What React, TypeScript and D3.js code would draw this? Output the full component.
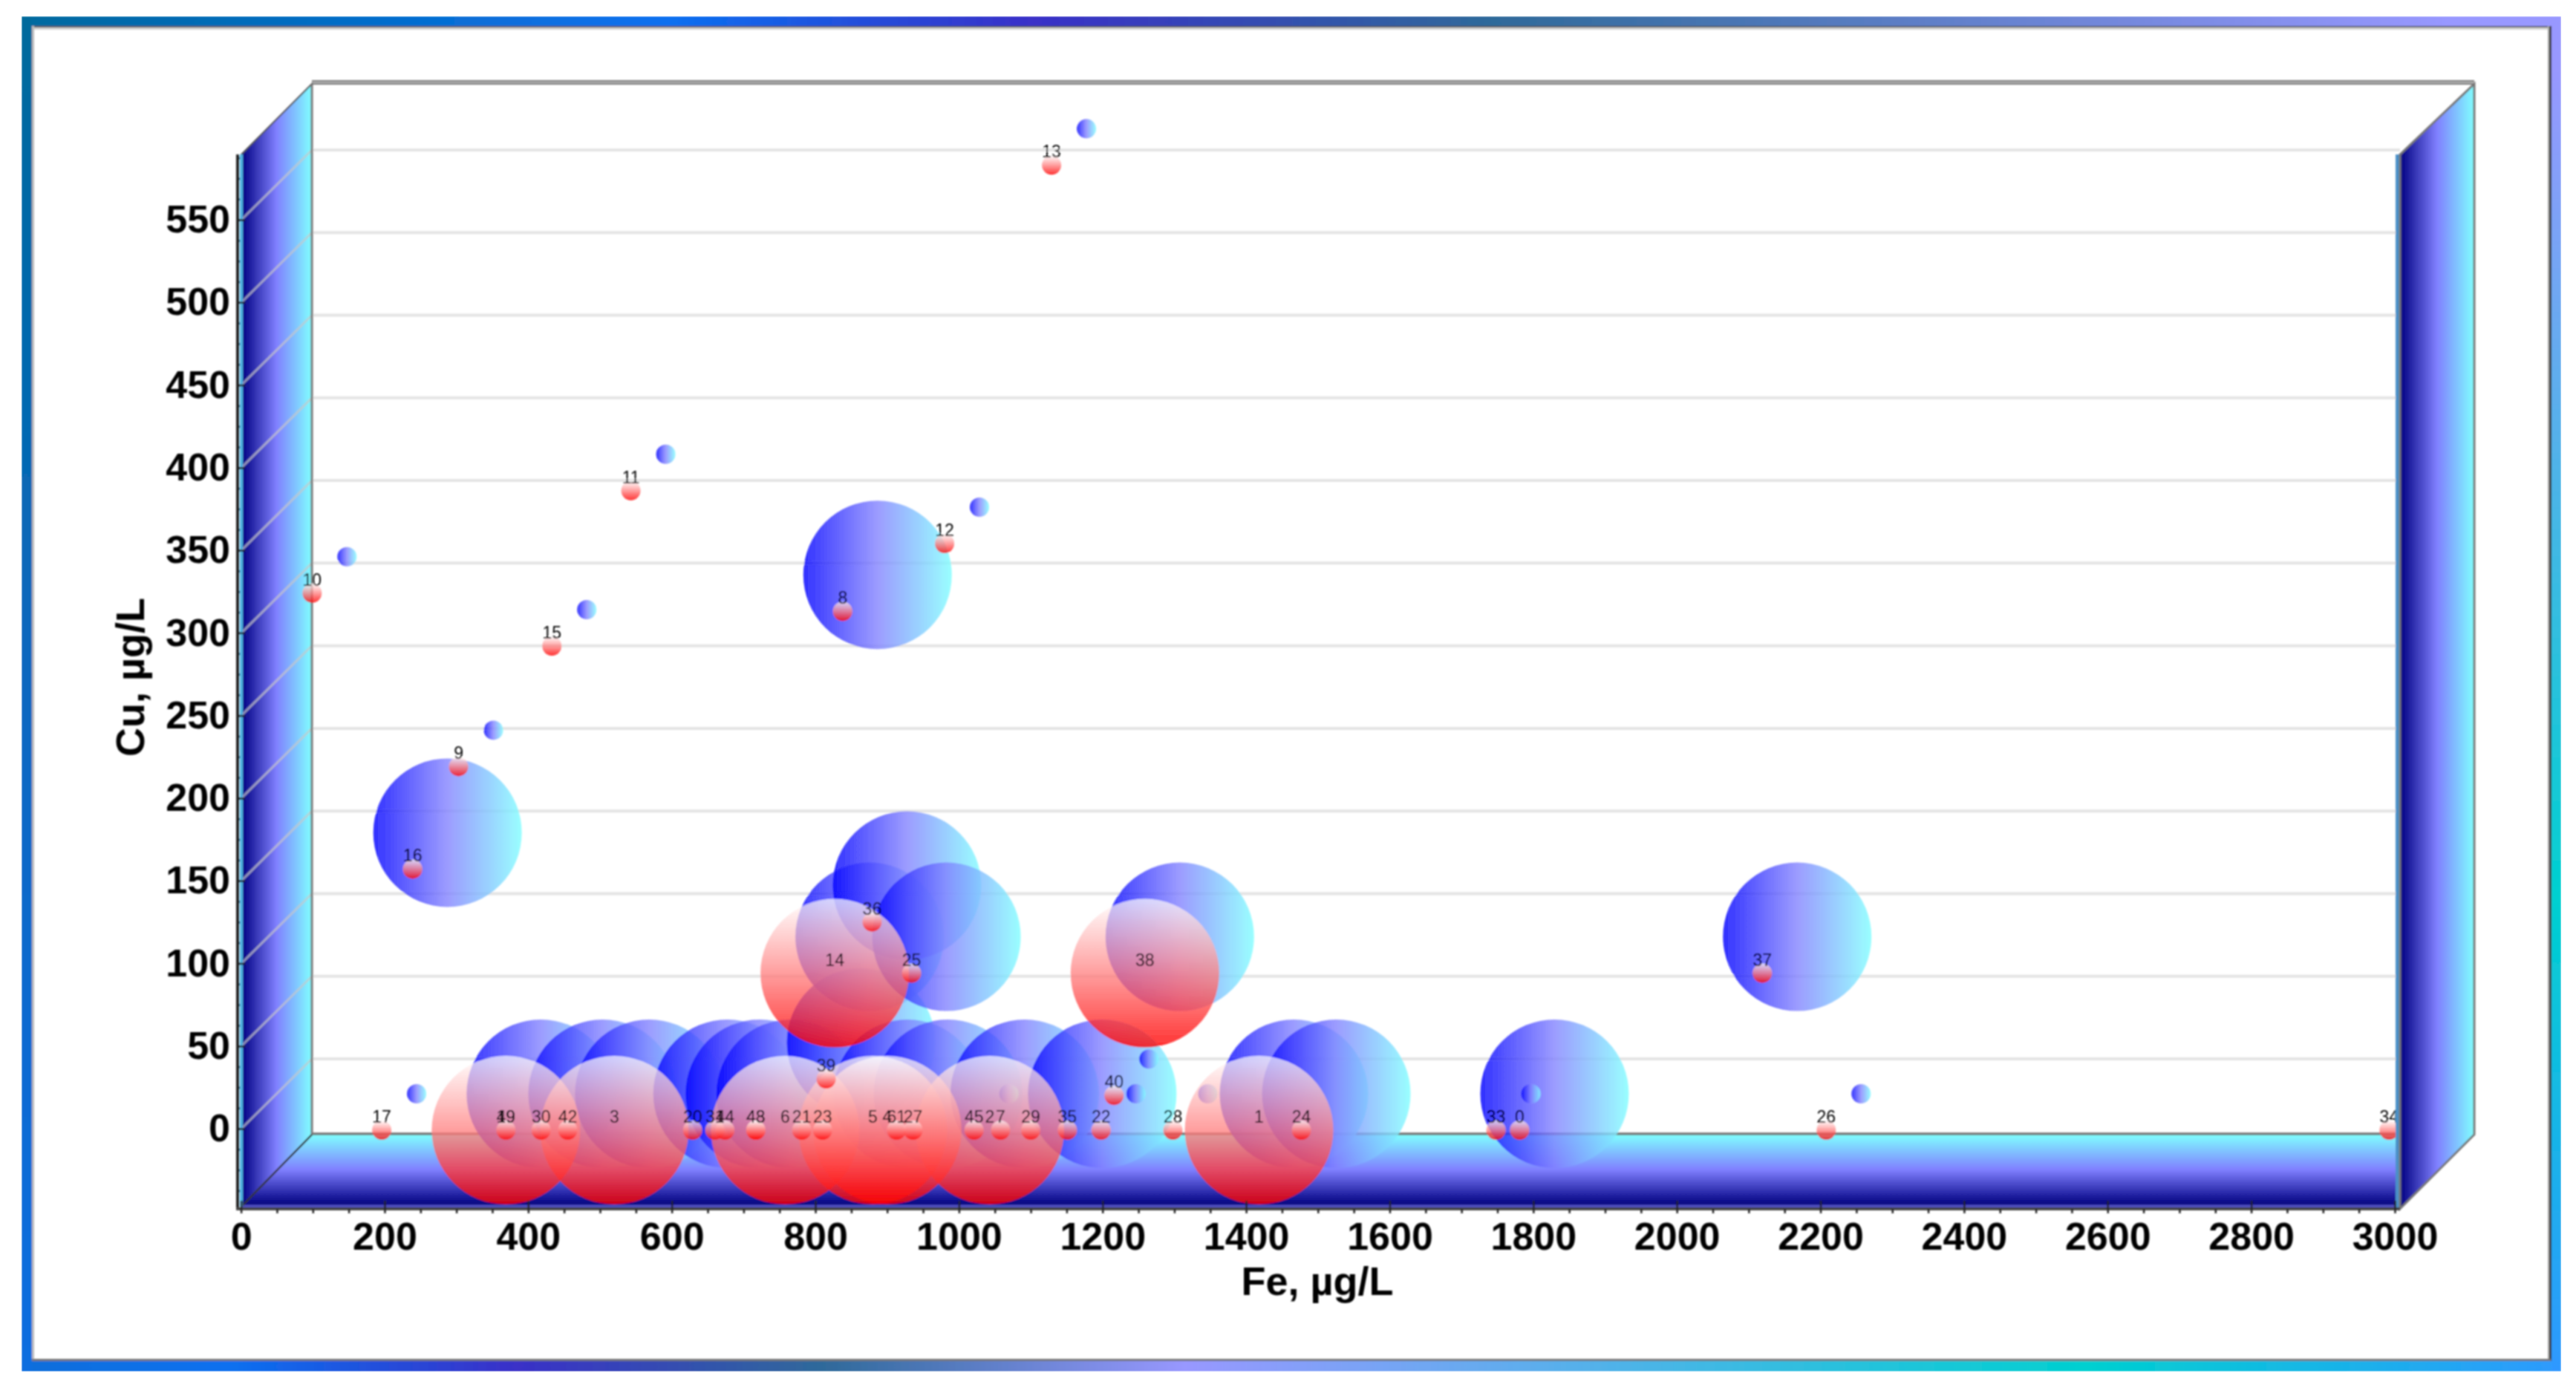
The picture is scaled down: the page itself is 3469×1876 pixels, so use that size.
import React, { useRef, useEffect } from "react";
import * as d3 from "d3";

const WIDTH = 3469;
const HEIGHT = 1876;

// data: label, Fe, Cu
const pointIds = ["49", "19", "30", "42", "3", "20", "31", "44", "43", "48", "6", "21", "23", "39", "5", "4", "61", "27", "45", "2", "7", "29", "35", "22", "40", "28", "1", "24", "33", "0", "26", "34", "17", "16", "9", "15", "10", "8", "12", "11", "13", "14", "36", "25", "38", "37"];
const feValues = [369, 369, 418, 455, 520, 629, 660, 674, 717, 717, 758, 781, 810, 815, 880, 900, 913, 936, 1021, 1043, 1058, 1100, 1151, 1198, 1216, 1298, 1418, 1477, 1748, 1781, 2208, 2992, 196, 239, 303, 433, 99, 838, 980, 543, 1129, 827, 879, 934, 1259, 2119];
const cuValues = [0, 0, 0, 0, 0, 0, 0, 0, 0, 0, 0, 0, 0, 31, 0, 0, 0, 0, 0, 0, 0, 0, 0, 0, 21, 0, 0, 0, 0, 0, 0, 0, 0, 158, 220, 293, 325, 314, 355, 387, 584, 95, 126, 95, 95, 95];

// which labels get the big bubble in each series
const bigRed = ["49", "3", "6", "5", "4", "2", "1", "14", "38"];
const bigBlue = ["49", "42", "3", "20", "44", "48", "39", "5", "27", "2", "35", "1", "24", "0", "16", "8", "14", "36", "25", "38", "37"];
// no blue marker can be seen for these
const noBlue = ["19", "30", "31", "43", "6", "21", "23", "4", "61", "7", "29"];

const xMajor = d3.range(0, 3001, 200);
const xMinor = d3.range(0, 3001, 50);
const yMajor = d3.range(0, 551, 50);
const yMinor = d3.range(-37.5, 589, 12.5);

const frameTop = [[0, "#006a9c"], [0.26, "#0a70f0"], [0.4, "#3a30c8"], [0.58, "#2f6a9a"], [0.95, "#9898ff"], [1, "#9898ff"]];
const frameBottom = [[0, "#0a6ed8"], [0.09, "#0a70f0"], [0.2, "#3a30c8"], [0.32, "#2f6a9a"], [0.46, "#9898ff"], [0.81, "#00d0d0"], [1, "#3098ff"]];
const frameLeft = [[0, "#006a9c"], [0.5, "#0a68c0"], [1, "#0c6ee0"]];
const frameRight = [[0, "#9898ff"], [0.04, "#9898ff"], [0.65, "#00d0d0"], [1, "#3098ff"]];
const wallStops = [[0, "#000080"], [0.5, "#8080ff"], [1, "#80ffff"]];

const FONT = "'Liberation Sans', Arial, sans-serif";

const x = d3.scaleLinear().domain([0, 3000]).range([324.6, 3225]);
const y = d3.scaleLinear().domain([0, 550]).range([1520, 296]);
const radius = d3.scaleOrdinal<string, number>().domain(["small", "big"]).range([13, 100]);

// depth of the box and of the back series, in px
const BOX = { left: 325, right: 3232, top: 208, bottom: 1625, dx: 96, dy: 95 };
const BLUE_SHIFT = 47;

const pts = pointIds.map((id, i) => ({ id, fe: feValues[i], cu: cuValues[i] }));
const blueOrder = pts
  .filter(d => !noBlue.includes(d.id))
  .sort((a, b) => +bigBlue.includes(b.id) - +bigBlue.includes(a.id));
const redOrder = [...pts].sort((a, b) => +bigRed.includes(b.id) - +bigRed.includes(a.id));

const Grad = ({ id, stops, x1, y1, x2, y2 }: any) => (
  <linearGradient id={id} gradientUnits="userSpaceOnUse" x1={x1} y1={y1} x2={x2} y2={y2}>
    {stops.map((s: any, i: number) => <stop key={i} offset={s[0]} stopColor={s[1]} />)}
  </linearGradient>
);

function App() {
  const xRef = useRef<SVGGElement>(null);
  const xMinorRef = useRef<SVGGElement>(null);
  const yRef = useRef<SVGGElement>(null);
  const yMinorRef = useRef<SVGGElement>(null);

  useEffect(() => {
    const style = (g: any) => {
      g.select(".domain").remove();
      g.selectAll("line").attr("stroke", "#222").attr("stroke-width", 2.5);
      g.selectAll("text")
        .attr("font-family", FONT)
        .attr("font-weight", "bold")
        .attr("font-size", 52)
        .attr("fill", "#000");
    };
    const plain = d3.format("d");
    d3.select(xRef.current).call(d3.axisBottom(x).tickValues(xMajor).tickFormat(plain as any).tickSizeInner(-11).tickSizeOuter(0).tickPadding(18) as any).call(style);
    d3.select(xMinorRef.current).call(d3.axisBottom(x).tickValues(xMinor).tickSizeInner(6).tickSizeOuter(0).tickFormat(() => "") as any).call(style);
    d3.select(yRef.current).call(d3.axisLeft(y).tickValues(yMajor).tickFormat(plain as any).tickSizeInner(-9).tickSizeOuter(0).tickPadding(11) as any).call(style);
    d3.select(yMinorRef.current).call(d3.axisLeft(y).tickValues(yMinor).tickSizeInner(3).tickSizeOuter(0).tickFormat(() => "") as any).call(style);
  }, []);

  const backLeft = BOX.left + BOX.dx - 1;
  const backRight = BOX.right + BOX.dx + 4;
  const backTop = BOX.top - BOX.dy;
  const backBottom = BOX.bottom - BOX.dy - 2;

  return (
    <svg width={WIDTH} height={HEIGHT} style={{ position: "absolute", left: 0, top: 0, background: "#fff" }}>
      <defs>
        <Grad id="fTop" stops={frameTop} x1={0} y1={0} x2={WIDTH} y2={0} />
        <Grad id="fBottom" stops={frameBottom} x1={0} y1={0} x2={WIDTH} y2={0} />
        <Grad id="fLeft" stops={frameLeft} x1={0} y1={22} x2={0} y2={1847} />
        <Grad id="fRight" stops={frameRight} x1={0} y1={22} x2={0} y2={1847} />
        <Grad id="wallL" stops={wallStops} x1={BOX.left} y1={0} x2={backLeft} y2={0} />
        <Grad id="wallR" stops={wallStops} x1={BOX.right} y1={0} x2={backRight} y2={0} />
        <Grad id="floor" stops={wallStops} x1={0} y1={BOX.bottom - 3} x2={0} y2={backBottom} />
        <linearGradient id="blueBall" x1="0" y1="0" x2="1" y2="0">
          <stop offset="0" stopColor="#0000ff" stopOpacity={0.8} />
          <stop offset="0.5" stopColor="#8080ff" stopOpacity={0.78} />
          <stop offset="1" stopColor="#80ffff" stopOpacity={0.8} />
        </linearGradient>
        <linearGradient id="redBall" x1="0" y1="0" x2="0" y2="1">
          <stop offset="0" stopColor="#ffffff" stopOpacity={0.72} />
          <stop offset="1" stopColor="#ff0000" stopOpacity={0.8} />
        </linearGradient>
        <filter id="soft" x="0" y="0" width="1" height="1">
          <feGaussianBlur stdDeviation={0.9} />
        </filter>
      </defs>

      <g filter="url(#soft)">
        {/* outer frame */}
        <rect x={29} y={22} width={3420} height={14} fill="url(#fTop)" />
        <rect x={29} y={1833} width={3420} height={14} fill="url(#fBottom)" />
        <rect x={29} y={22} width={14} height={1825} fill="url(#fLeft)" />
        <rect x={3436} y={22} width={13} height={1825} fill="url(#fRight)" />
        <rect x={44} y={37} width={3388} height={3} fill="#d0d0d0" />
        <rect x={43} y={35} width={3392} height={2} fill="#555" />
        <rect x={43} y={35} width={3} height={1798} fill="#bbb" />
        <rect x={3431} y={35} width={2} height={1798} fill="#aaa" />
        <rect x={3433} y={35} width={3} height={1798} fill="#333" />
        <rect x={43} y={1830} width={3392} height={3} fill="#777" />

        {/* back wall */}
        <line x1={backLeft} x2={backRight} y1={backTop - 2} y2={backTop - 2} stroke="#777" strokeWidth={6} />
        <line x1={backLeft} x2={backRight} y1={backTop - 2} y2={backTop - 2} stroke="#ccc" strokeWidth={1.5} />
        {yMajor.map(v => (
          <line key={v} x1={backLeft} x2={BOX.right} y1={y(v) - BOX.dy + 1} y2={y(v) - BOX.dy + 1} stroke="#e4e4e4" strokeWidth={4} />
        ))}

        {/* floor */}
        <polygon points={`${backLeft},${backBottom} ${BOX.right},${backBottom} ${BOX.right},${BOX.bottom} ${BOX.left},${BOX.bottom}`} fill="url(#floor)" />
        <line x1={backLeft} x2={BOX.right} y1={backBottom - 1} y2={backBottom - 1} stroke="#777" strokeWidth={3.5} />
        <line x1={BOX.left} x2={BOX.right} y1={BOX.bottom} y2={BOX.bottom} stroke="#5050c0" strokeWidth={5} />

        {/* left wall */}
        <polygon points={`${BOX.left},${BOX.top} ${backLeft},${backTop} ${backLeft},${backBottom} ${BOX.left},${BOX.bottom}`} fill="url(#wallL)" stroke="#555" strokeWidth={2} />
        {yMajor.map(v => (
          <line key={v} x1={BOX.left} x2={backLeft} y1={y(v)} y2={y(v) - BOX.dy + 1} stroke="#c8c8c8" strokeOpacity={0.7} strokeWidth={3} />
        ))}
        <line x1={BOX.left} y1={BOX.bottom} x2={backLeft} y2={backBottom} stroke="#333" strokeWidth={2.5} />
        <line x1={backLeft} y1={backTop} x2={backLeft} y2={backBottom} stroke="#777" strokeWidth={3} />

        {/* back series */}
        <g>
          {blueOrder.map(d => (
            <circle key={d.id} cx={x(d.fe) + BLUE_SHIFT} cy={y(d.cu) - BLUE_SHIFT}
              r={radius(bigBlue.includes(d.id) ? "big" : "small")} fill="url(#blueBall)" />
          ))}
        </g>

        {/* front series */}
        <g>
          {redOrder.map(d => (
            <circle key={d.id} cx={x(d.fe)} cy={y(d.cu) + 2}
              r={radius(bigRed.includes(d.id) ? "big" : "small")} fill="url(#redBall)" />
          ))}
        </g>
        <g fontFamily={FONT} fontSize={23} fill="#000" textAnchor="middle">
          {pts.map(d => (
            <text key={d.id} x={x(d.fe)} y={y(d.cu) - 8}>{d.id}</text>
          ))}
        </g>

        {/* right wall sits in front of the marks */}
        <rect x={3226} y={BOX.top} width={6} height={BOX.bottom - BOX.top + 3} fill="#4a90c8" />
        <polygon points={`${BOX.right},${BOX.top} ${backRight},${backTop} ${backRight},${backBottom} ${BOX.right},${BOX.bottom + 3}`} fill="url(#wallR)" stroke="#777" strokeWidth={3} />

        {/* axes */}
        <rect x={323} y={BOX.top} width={4} height={BOX.bottom - BOX.top} fill="#50b0e0" />
        <line x1={320} x2={320} y1={BOX.top} y2={1630} stroke="#222" strokeWidth={4} />
        <line x1={318} x2={BOX.right} y1={1628} y2={1628} stroke="#444" strokeWidth={4} />
        <g ref={xRef} transform="translate(0,1628)" />
        <g ref={xMinorRef} transform="translate(0,1628)" />
        <g ref={yRef} transform="translate(321,0)" />
        <g ref={yMinorRef} transform="translate(323,0)" />

        <text x={1774} y={1744} textAnchor="middle" fontFamily={FONT} fontWeight="bold" fontSize={54}>Fe, µg/L</text>
        <text transform="translate(194,912) rotate(-90)" textAnchor="middle" fontFamily={FONT} fontWeight="bold" fontSize={54}>Cu, µg/L</text>
      </g>
    </svg>
  );
}

export default App;
